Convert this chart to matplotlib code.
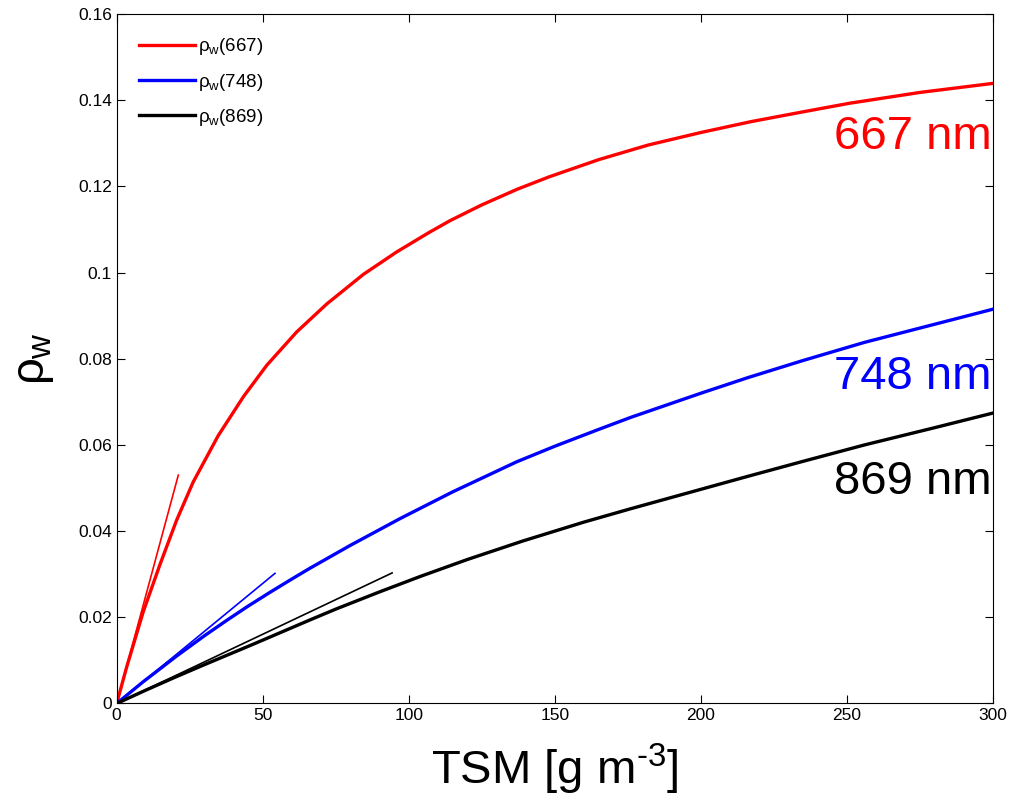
import matplotlib

matplotlib.use("Agg")
import matplotlib.pyplot as plt
from matplotlib.ticker import FuncFormatter, MultipleLocator

plt.rcParams["font.family"] = ["Liberation Sans", "DejaVu Sans"]
plt.rcParams["mathtext.fontset"] = "custom"
plt.rcParams["mathtext.rm"] = "Liberation Sans"
plt.rcParams["mathtext.it"] = "Liberation Sans"

# rho_w curves (TSM in g m-3)
tsm_667 = [0, 3.4, 9.1, 14.8, 20.5, 26.2, 34.8, 43.4, 51.4, 61.6, 71.9, 84.5, 95.9, 106.7,
           114, 125, 137, 148, 165, 182, 200, 217, 235, 251, 275, 300]
rho_667 = [0, 0.0084, 0.0213, 0.0322, 0.0425, 0.0514, 0.0622, 0.0712, 0.0785, 0.0862, 0.0927,
           0.0996, 0.1048, 0.1092, 0.112, 0.1157, 0.1193, 0.1222, 0.1262, 0.1296, 0.1325,
           0.135, 0.1373, 0.1393, 0.1418, 0.1439]

tsm_748 = [0, 9, 20.5, 30, 37.7, 45, 52.5, 60, 66.2, 80, 97, 115, 137, 150, 165, 176, 200, 216,
           235, 256, 280, 300]
rho_748 = [0, 0.005, 0.011, 0.0157, 0.0193, 0.0226, 0.0258, 0.0289, 0.0314, 0.0367, 0.0429,
           0.0491, 0.0561, 0.0597, 0.0636, 0.0664, 0.072, 0.0756, 0.0796, 0.0838, 0.088, 0.0915]

tsm_869 = [0, 10, 20, 30, 43.4, 50, 66.2, 75, 90, 104, 120, 139, 160, 176, 200, 216, 235,
           256, 280, 300]
rho_869 = [0, 0.0031, 0.0061, 0.009, 0.0128, 0.0147, 0.0194, 0.0219, 0.0259, 0.0295, 0.0334,
           0.0377, 0.0421, 0.0452, 0.0497, 0.0527, 0.0562, 0.06, 0.064, 0.0674]

# initial-slope (linear) segments
lin_667 = ([0, 21.1], [0, 0.053])
lin_748 = ([0, 54.2], [0, 0.0302])
lin_869 = ([0, 94.3], [0, 0.0303])

labels = [r"$\rho_w$(667)", r"$\rho_w$(748)", r"$\rho_w$(869)"]
band_text = ["667 nm", "748 nm", "869 nm"]
band_y = [0.1315, 0.0758, 0.0515]
colors = ["#ff0000", "#0000ff", "#000000"]

fig = plt.figure(figsize=(10.11, 7.95), dpi=100)
ax = fig.add_axes([0.1154, 0.1151, 0.8668, 0.8673])

curves = [(tsm_667, rho_667), (tsm_748, rho_748), (tsm_869, rho_869)]
lines = [lin_667, lin_748, lin_869]
for (x, y), (lx, ly), c, lab in zip(curves, lines, colors, labels):
    ax.plot(x, y, color=c, lw=2.4, label=lab, solid_joinstyle="round")
    ax.plot(lx, ly, color=c, lw=1.2)

for txt, y, c in zip(band_text, band_y, colors):
    ax.text(299.5, y, txt, color=c, fontsize=34, ha="right", va="center")

ax.set_xlim(0, 300)
ax.set_ylim(0, 0.16)
ax.xaxis.set_major_locator(MultipleLocator(50))
ax.yaxis.set_major_locator(MultipleLocator(0.02))
ax.yaxis.set_major_formatter(FuncFormatter(lambda v, p: f"{v:g}"))
ax.tick_params(direction="in", top=True, right=True, length=6, width=0.8, labelsize=12.5)
for s in ax.spines.values():
    s.set_linewidth(0.8)

ax.set_xlabel(r"TSM [g m$^{\text{-}3}$]", fontsize=34, labelpad=13)
ax.set_ylabel(r"$\rho_w$", fontsize=34, labelpad=16)

ax.legend(loc="upper left", frameon=False, fontsize=13.5, handlelength=3.0,
          labelspacing=0.75, handletextpad=0.15, borderaxespad=0.8,
          bbox_to_anchor=(0.0, 1.0))

fig.savefig("out.png", dpi=100)
